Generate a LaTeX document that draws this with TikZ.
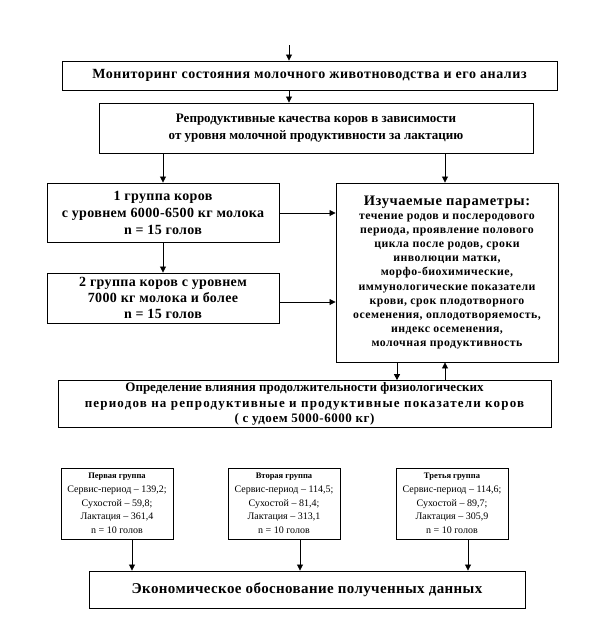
\documentclass[tikz,border=0pt]{standalone}
\usepackage{fontspec}
\setmainfont{Liberation Serif}
\newfontfamily\spacedfont[LetterSpace=4]{Liberation Serif}
\newfontfamily\spacedlight[LetterSpace=2.5]{Liberation Serif}
\newfontfamily\spacedwide[LetterSpace=9]{Liberation Serif}
\usetikzlibrary{arrows.meta}
\begin{document}
\begin{tikzpicture}[x=1pt,y=-1pt,
  box/.style={draw,line width=0.9pt,rectangle,inner sep=2pt,align=center,font=\bfseries\fontsize{13}{16.5}\selectfont},
  sbox/.style={draw,line width=0.9pt,rectangle,inner sep=2pt,align=center,minimum width=112,minimum height=71,font=\fontsize{10}{13.7}\selectfont},
  arr/.style={line width=0.8pt,-{Triangle[length=6pt,width=6pt]}}]
\useasboundingbox (0,0) rectangle (589,625);
\coordinate (top) at (289,45);
\node[box,minimum width=495,minimum height=29,font=\spacedfont\bfseries\fontsize{14}{16.5}\selectfont] (mon) at (309.5,75.5) {Мониторинг состояния молочного животноводства и его анализ};
\node[box,minimum width=434,minimum height=50] (rep) at (316,128) {Репродуктивные качества коров в зависимости\\от уровня молочной продуктивности за лактацию};
\node[box,minimum width=232,minimum height=59,font=\spacedlight\bfseries\fontsize{14}{17}\selectfont] (g1) at (163,212.5) {1 группа коров\\с уровнем 6000-6500 кг молока\\n = 15 голов};
\node[box,minimum width=232,minimum height=50,font=\spacedlight\bfseries\fontsize{14}{16}\selectfont] (g2) at (163,298) {2 группа коров с уровнем\\7000 кг молока и более\\n = 15 голов};
\node[box,minimum width=222,minimum height=179,font=\spacedfont\bfseries\fontsize{11.8}{14.1}\selectfont] (par) at (447,272.5) {{\fontsize{14.5}{16}\selectfont Изучаемые параметры:}\\течение родов и послеродового\\периода, проявление полового\\цикла после родов, сроки\\инволюции матки,\\морфо-биохимические,\\иммунологические показатели\\крови, срок плодотворного\\осеменения, оплодотворяемость,\\индекс осеменения,\\молочная продуктивность};
\node[box,minimum width=493,minimum height=42,font=\bfseries\fontsize{13}{15.5}\selectfont] (def) at (304.5,404) {Определение влияния продолжительности физиологических\\{\spacedwide\bfseries периодов на репродуктивные и продуктивные показатели коров}\\{\spacedfont\bfseries ( с удоем 5000-6000 кг)}};
\node[sbox] (a) at (117,503.5) {{\bfseries\fontsize{8.5}{10}\selectfont Первая группа}\\Сервис-период – 139,2;\\Сухостой – 59,8;\\Лактация – 361,4\\n = 10 голов};
\node[sbox] (b) at (284,503.5) {{\bfseries\fontsize{8.5}{10}\selectfont Вторая группа}\\Сервис-период – 114,5;\\Сухостой – 81,4;\\Лактация – 313,1\\n = 10 голов};
\node[sbox] (c) at (452,503.5) {{\bfseries\fontsize{8.5}{10}\selectfont Третья группа}\\Сервис-период – 114,6;\\Сухостой – 89,7;\\Лактация – 305,9\\n = 10 голов};
\node[box,minimum width=436,minimum height=37,font=\spacedlight\bfseries\fontsize{15}{17}\selectfont] (eco) at (307,589.5) {Экономическое обоснование полученных данных};
\draw[arr] (top) -- (mon.north -| top);
\draw[arr] (mon.south -| top) -- (rep.north -| top);
\draw[arr] (rep.south -| g1) -- (g1.north);
\draw[arr] (rep.south -| 445,0) -- (par.north -| 445,0);
\draw[arr] (g1) -- (g2);
\draw[arr] (g1.east |- 0,213) -- (par.west |- 0,213);
\draw[arr] (g2.east |- 0,302) -- (par.west |- 0,302);
\draw[arr] (par.south -| 397,0) -- (def.north -| 397,0);
\draw[arr] (def.north -| 445,0) -- (par.south -| 445,0);
\draw[arr] ([xshift=15pt]a.south) -- ([xshift=15pt]a.south |- eco.north);
\draw[arr] ([xshift=16pt]b.south) -- ([xshift=16pt]b.south |- eco.north);
\draw[arr] ([xshift=16pt]c.south) -- ([xshift=16pt]c.south |- eco.north);
\end{tikzpicture}
\end{document}
